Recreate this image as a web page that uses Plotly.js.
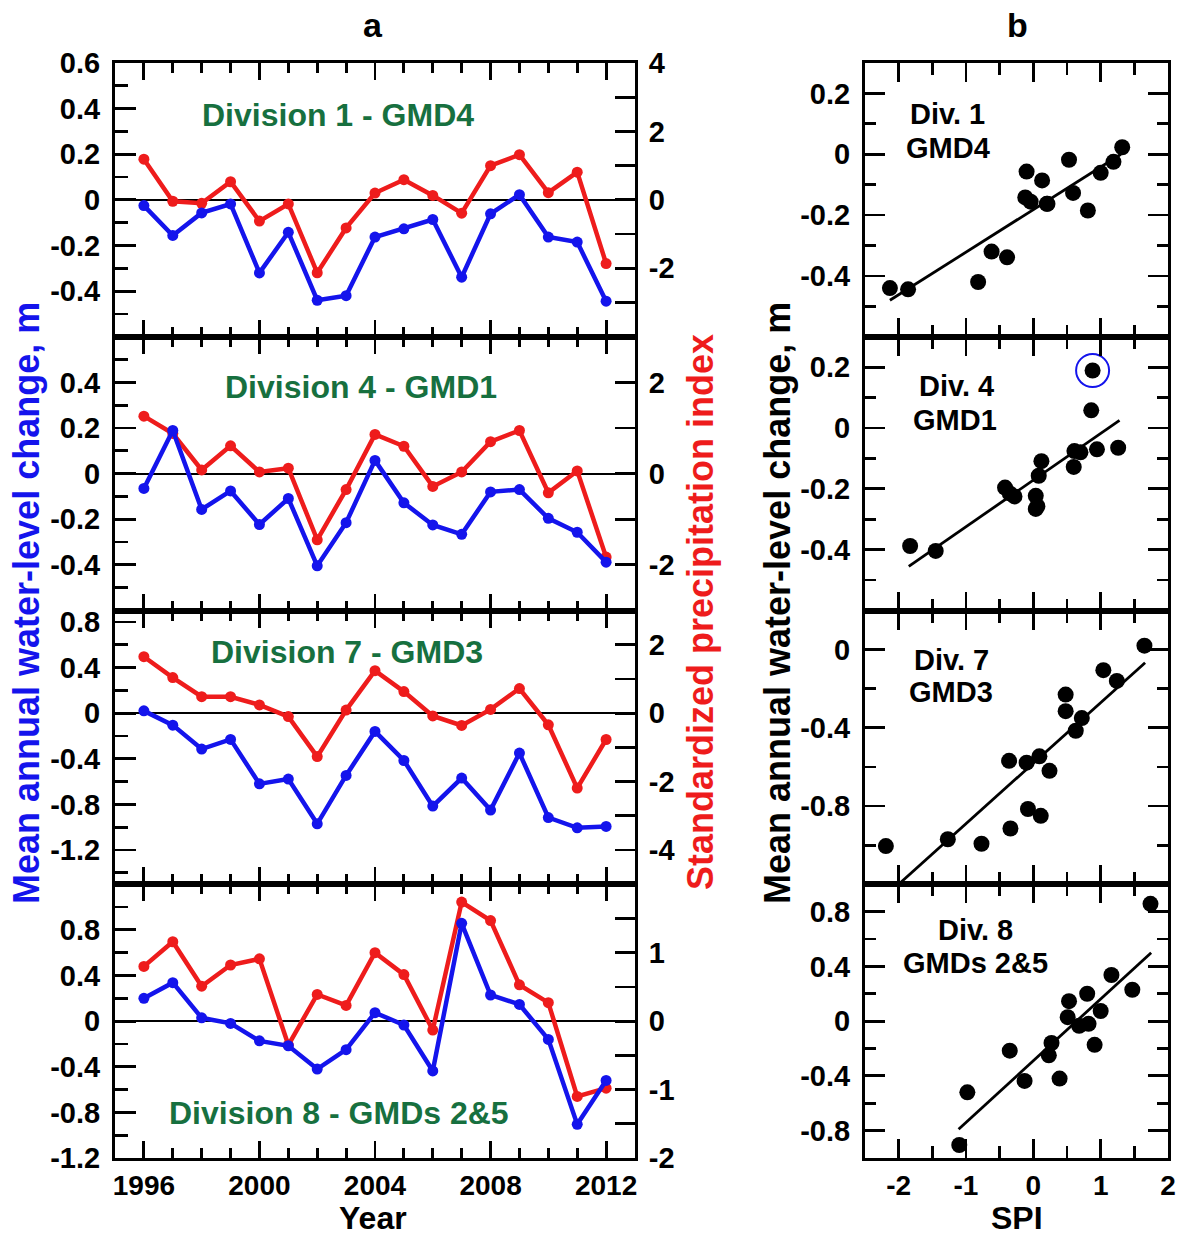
<!DOCTYPE html>
<html>
<head>
<meta charset="utf-8">
<script src="https://cdn.plot.ly/plotly-3.0.1.min.js"></script>
<style>html,body{margin:0;padding:0;background:#fff}#chart{width:1181px;height:1238px}</style>
</head>
<body>
<div id="chart"></div>
<script>
// ---------------- DATA ----------------
const years = [1996,1997,1998,1999,2000,2001,2002,2003,2004,2005,2006,2007,2008,2009,2010,2011,2012];

// Division 1 - GMD4
const div1_wl  = [-0.025,-0.156,-0.057,-0.018,-0.32,-0.142,-0.44,-0.42,-0.163,-0.127,-0.086,-0.339,-0.061,0.023,-0.163,-0.185,-0.444];
const div1_spi = [1.19,-0.04,-0.1,0.53,-0.62,-0.12,-2.13,-0.82,0.2,0.59,0.13,-0.39,1.0,1.32,0.21,0.81,-1.86];
// Division 4 - GMD1
const div4_wl  = [-0.065,0.189,-0.157,-0.076,-0.223,-0.109,-0.404,-0.215,0.058,-0.128,-0.225,-0.266,-0.08,-0.07,-0.196,-0.257,-0.388];
const div4_spi = [1.26,0.88,0.08,0.61,0.036,0.12,-1.45,-0.35,0.86,0.6,-0.28,0.036,0.7,0.945,-0.42,0.06,-1.83];
// Division 7 - GMD3
const div7_wl  = [0.02,-0.105,-0.315,-0.23,-0.62,-0.578,-0.97,-0.546,-0.16,-0.415,-0.815,-0.569,-0.85,-0.35,-0.915,-1.005,-0.993];
const div7_spi = [1.65,1.04,0.48,0.48,0.24,-0.1,-1.27,0.09,1.24,0.63,-0.08,-0.36,0.11,0.72,-0.34,-2.19,-0.77];
// Division 8 - GMDs 2&5
const div8_wl  = [0.2,0.337,0.029,-0.02,-0.173,-0.216,-0.42,-0.25,0.074,-0.034,-0.437,0.857,0.229,0.146,-0.16,-0.905,-0.52];
const div8_spi = [0.8,1.16,0.51,0.82,0.91,-0.35,0.39,0.23,1.0,0.68,-0.13,1.74,1.47,0.53,0.27,-1.1,-0.98];

// regression lines (endpoints)
const fit1_x = [-2.13, 1.30], fit1_y = [-0.48, 0.0];
const fit4_x = [-1.85, 1.28], fit4_y = [-0.455, 0.025];
const fit7_x = [-2.0, 1.66],  fit7_y = [-1.2, -0.067];
const fit8_x = [-1.11, 1.75], fit8_y = [-0.79, 0.50];

// highlighted point (Div. 4, 1997)
const highlightIndex = 1;

// labels
const panelA_labels = ["Division 1 - GMD4","Division 4 - GMD1","Division 7 - GMD3","Division 8 - GMDs 2&5"];
const panelB_labels = [["Div. 1","GMD4"],["Div. 4","GMD1"],["Div. 7","GMD3"],["Div. 8","GMDs 2&5"]];

// tick labels
const yearTickvals = [1996,2000,2004,2008,2012];
const yearTicktext = ["1996","2000","2004","2008","2012"];

const wlTickvals = [[0.6,0.4,0.2,0,-0.2,-0.4],[0.4,0.2,0,-0.2,-0.4],[0.8,0.4,0,-0.4,-0.8,-1.2],[0.8,0.4,0,-0.4,-0.8,-1.2]];
const wlTicktext = [["0.6","0.4","0.2","0","-0.2","-0.4"],["0.4","0.2","0","-0.2","-0.4"],["0.8","0.4","0","-0.4","-0.8","-1.2"],["0.8","0.4","0","-0.4","-0.8","-1.2"]];
const spiTickvals = [[4,3,2,1,0,-1,-2,-3],[3,2,1,0,-1,-2,-3],[3,2,1,0,-1,-2,-3,-4,-5],[2,1.5,1,0.5,0,-0.5,-1,-1.5,-2]];
const spiTicktext = [["4","","2","","0","","-2",""],["","2","","0","","-2",""],["","2","","0","","-2","","-4",""],["","","1","","0","","-1","","-2"]];

const spiXTickvals = [-2,-1,0,1,2];
const spiXTicktext = ["-2","-1","0","1","2"];
const scTickvals = [[0.2,0,-0.2,-0.4],[0.2,0,-0.2,-0.4],[0,-0.4,-0.8],[0.8,0.4,0,-0.4,-0.8]];
const scTicktext = [["0.2","0","-0.2","-0.4"],["0.2","0","-0.2","-0.4"],["0","-0.4","-0.8"],["0.8","0.4","0","-0.4","-0.8"]];

// ---------------- LAYOUT ----------------
const W = 1181, H = 1238;
const fx = p => p / W;
const fy = p => 1 - p / H;
const FONT = "Liberation Sans, Arial, Helvetica, sans-serif";
const BLUE = "#1414ec", RED = "#ee1c1c", GREEN = "#17703f";

const wlRanges = [[-0.6,0.6],[-0.6,0.6],[-1.5,0.9],[-1.2,1.2]];
const wlMinor = [0.1,0.1,0.2,0.2];
const spiRanges = [[-4,4],[-3,3],[-5,3],[-2,2]];
const scRanges = [[-0.6,0.3],[-0.6,0.3],[-1.2,0.2],[-1.0,1.0]];
const scMinor = [0.1,0.1,0.2,0.2];

const top0 = 63, rowH = 273.75;
const rowDomain = i => [fy(top0 + (i+1)*rowH), fy(top0 + i*rowH)];

const wl = [div1_wl, div4_wl, div7_wl, div8_wl];
const spi = [div1_spi, div4_spi, div7_spi, div8_spi];
const fitsX = [fit1_x, fit4_x, fit7_x, fit8_x];
const fitsY = [fit1_y, fit4_y, fit7_y, fit8_y];

const tickfont = {family: FONT, size: 29, color: "#000", weight: "bold"};
const xtickfont = {family: FONT, size: 28, color: "#000", weight: "bold"};
const LW = 3, TW = 2.8;

const layout = {
  width: W, height: H,
  margin: {l:0, r:0, t:0, b:0},
  paper_bgcolor: "#fff", plot_bgcolor: "rgba(0,0,0,0)",
  showlegend: false,
  font: {family: FONT, color: "#000"},
  annotations: [], shapes: []
};
const traces = [];

for (let i = 0; i < 4; i++) {
  const xa = i + 1;           // panel a x axis
  const ySpi = i + 1;         // base y (SPI, right)
  const yWl = i + 5;          // overlay y (water level, left)
  const xb = i + 5;           // panel b x axis
  const yb = i + 9;           // panel b y axis
  const xn = n => n === 1 ? "x" : "x" + n;
  const yn = n => n === 1 ? "y" : "y" + n;
  const xk = n => n === 1 ? "xaxis" : "xaxis" + n;
  const yk = n => n === 1 ? "yaxis" : "yaxis" + n;

  // ---- panel a ----
  layout[xk(xa)] = {
    domain: [fx(115), fx(635)], anchor: yn(ySpi), range: [1995, 2013],
    tickmode: "array", tickvals: yearTickvals, ticktext: yearTicktext,
    showticklabels: i === 3, ticks: "inside", ticklen: 17, tickwidth: TW, tickcolor: "#000",
    minor: {dtick: 1, tick0: 1996, ticks: "inside", ticklen: 10, tickwidth: TW, tickcolor: "#000"},
    showline: true, linewidth: LW, linecolor: "#000", mirror: "ticks",
    showgrid: false, zeroline: false, tickfont: xtickfont, ticklabelstandoff: 0
  };
  layout[yk(ySpi)] = {
    domain: rowDomain(i), anchor: xn(xa), side: "right", range: spiRanges[i],
    tickmode: "array", tickvals: spiTickvals[i], ticktext: spiTicktext[i],
    ticks: "inside", ticklen: 20, tickwidth: TW, tickcolor: "#000",
    showline: true, linewidth: LW, linecolor: "#000",
    showgrid: false, zeroline: true, zerolinecolor: "#000", zerolinewidth: 1.8,
    tickfont: tickfont, ticklabelstandoff: 5
  };
  layout[yk(yWl)] = {
    overlaying: yn(ySpi), anchor: xn(xa), side: "left", range: wlRanges[i],
    tickmode: "array", tickvals: wlTickvals[i], ticktext: wlTicktext[i],
    ticks: "inside", ticklen: 21, tickwidth: TW, tickcolor: "#000",
    minor: {dtick: wlMinor[i], tick0: 0, ticks: "inside", ticklen: 13, tickwidth: TW, tickcolor: "#000"},
    showline: true, linewidth: LW, linecolor: "#000",
    showgrid: false, zeroline: false, tickfont: tickfont, ticklabelstandoff: 6
  };
  traces.push({
    x: years, y: spi[i], xaxis: xn(xa), yaxis: yn(ySpi), type: "scatter", mode: "lines+markers",
    line: {color: RED, width: 4.5}, marker: {color: RED, size: 11}, cliponaxis: false
  });
  traces.push({
    x: years, y: wl[i], xaxis: xn(xa), yaxis: yn(yWl), type: "scatter", mode: "lines+markers",
    line: {color: BLUE, width: 4.5}, marker: {color: BLUE, size: 11}, cliponaxis: false
  });

  // ---- panel b ----
  layout[xk(xb)] = {
    domain: [fx(865), fx(1168)], anchor: yn(yb), range: [-2.5, 2.0],
    tickmode: "array", tickvals: spiXTickvals, ticktext: spiXTicktext,
    showticklabels: i === 3, ticks: "inside", ticklen: 19, tickwidth: TW, tickcolor: "#000",
    minor: {dtick: 0.5, tick0: 0, ticks: "inside", ticklen: 12, tickwidth: TW, tickcolor: "#000"},
    showline: true, linewidth: LW, linecolor: "#000", mirror: "ticks",
    showgrid: false, zeroline: false, tickfont: xtickfont, ticklabelstandoff: 0
  };
  layout[yk(yb)] = {
    domain: rowDomain(i), anchor: xn(xb), range: scRanges[i],
    tickmode: "array", tickvals: scTickvals[i], ticktext: scTicktext[i],
    ticks: "inside", ticklen: 20, tickwidth: TW, tickcolor: "#000",
    minor: {dtick: scMinor[i], tick0: 0, ticks: "inside", ticklen: 11, tickwidth: TW, tickcolor: "#000"},
    showline: true, linewidth: LW, linecolor: "#000", mirror: "ticks",
    showgrid: false, zeroline: false, tickfont: tickfont, ticklabelstandoff: 6
  };
  traces.push({
    x: fitsX[i], y: fitsY[i], xaxis: xn(xb), yaxis: yn(yb), type: "scatter", mode: "lines",
    line: {color: "#000", width: 2.8}
  });
  traces.push({
    x: spi[i], y: wl[i], xaxis: xn(xb), yaxis: yn(yb), type: "scatter", mode: "markers",
    marker: {color: "#000", size: 16}, cliponaxis: false
  });
  if (i === 1) {
    traces.push({
      x: [div4_spi[highlightIndex]], y: [div4_wl[highlightIndex]], xaxis: xn(xb), yaxis: yn(yb),
      type: "scatter", mode: "markers",
      marker: {symbol: "circle-open", color: BLUE, size: 33, line: {color: BLUE, width: 2}}
    });
  }
}

// ---- annotations ----
function ann(text, px, py, size, color, angle, yanchor) {
  layout.annotations.push({
    text: text, xref: "paper", yref: "paper", x: fx(px), y: fy(py),
    xanchor: "center", yanchor: yanchor || "middle", showarrow: false, textangle: angle || 0,
    font: {family: FONT, size: size, color: color, weight: "bold"}
  });
}
ann("a", 373, 25, 34, "#000");
ann("b", 1017, 25, 34, "#000");
ann("Year", 373, 1238, 32, "#000", 0, "bottom");
ann("SPI", 1017, 1238, 32, "#000", 0, "bottom");
ann("Mean annual water-level change, m", 27, 603, 36, BLUE, -90);
ann("Standardized precipitation index", 700, 612, 36, RED, -90);
ann("Mean annual water-level change, m", 778, 603, 36, "#000", -90);

const aLabelPos = [[338,115],[361,387],[347,652],[339,1113]];
panelA_labels.forEach((t, i) => ann(t, aLabelPos[i][0], aLabelPos[i][1], 32, GREEN));

const bLabelPos = [[[947,114],[948,148]],[[956,386],[955,420]],[[951,660],[951,692]],[[975,930],[975,963]]];
panelB_labels.forEach((pair, i) => {
  ann(pair[0], bLabelPos[i][0][0], bLabelPos[i][0][1], 29, "#000");
  ann(pair[1], bLabelPos[i][1][0], bLabelPos[i][1][1], 29, "#000");
});

Plotly.newPlot("chart", traces, layout, {displayModeBar: false, staticPlot: true});
</script>
</body>
</html>
